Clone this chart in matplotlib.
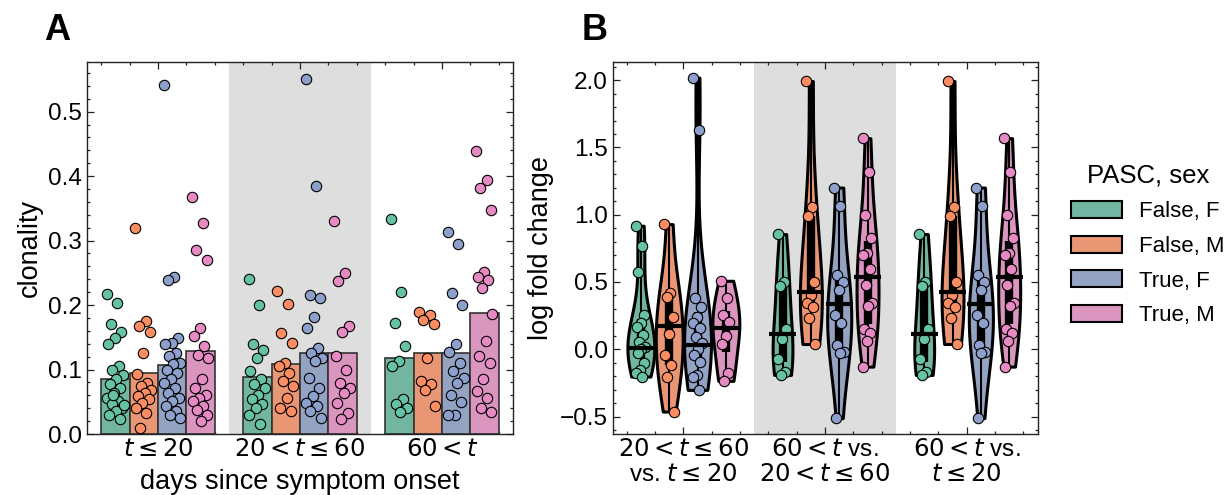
import colorsys
import numpy as np
import matplotlib
matplotlib.use("Agg")
import matplotlib.pyplot as plt
from matplotlib.patches import Patch
from matplotlib.ticker import AutoMinorLocator, MultipleLocator, FixedLocator

plt.rcParams['font.family'] = ['Liberation Sans', 'DejaVu Sans']
plt.rcParams['mathtext.fontset'] = 'dejavusans'

# legend / hue info
hue_labels = ['False, F', 'False, M', 'True, F', 'True, M']
base_colors = ['#66c2a5', '#fc8d62', '#8da0cb', '#e78ac3']

# ---- panel A: clonality by days since symptom onset ----
a_groups = [r'$t \leq 20$', r'$20 < t \leq 60$', r'$60 < t$']
a_bars = [[0.085, 0.094, 0.107, 0.129],
          [0.089, 0.108, 0.126, 0.126],
          [0.118, 0.126, 0.126, 0.188]]

a_g1_ff = [0.217, 0.203, 0.170, 0.159, 0.149, 0.140, 0.105, 0.100, 0.092, 0.085, 0.077,
           0.072, 0.064, 0.056, 0.051, 0.046, 0.040, 0.035, 0.029, 0.023, 0.060, 0.045]
a_g1_fm = [0.320, 0.175, 0.167, 0.159, 0.126, 0.093, 0.079, 0.074, 0.069, 0.064, 0.059,
           0.054, 0.048, 0.040, 0.033, 0.010]
a_g1_tf = [0.541, 0.244, 0.239, 0.149, 0.141, 0.139, 0.126, 0.121, 0.110, 0.108, 0.100,
           0.095, 0.085, 0.079, 0.072, 0.064, 0.056, 0.051, 0.043, 0.035, 0.030, 0.025]
a_g1_tm = [0.367, 0.327, 0.285, 0.270, 0.165, 0.152, 0.136, 0.123, 0.118, 0.085, 0.072,
           0.061, 0.056, 0.051, 0.043, 0.038, 0.030, 0.020]

a_g2_ff = [0.240, 0.200, 0.139, 0.131, 0.118, 0.097, 0.085, 0.077, 0.072, 0.061, 0.054,
           0.046, 0.040, 0.030, 0.015]
a_g2_fm = [0.222, 0.201, 0.157, 0.141, 0.110, 0.105, 0.095, 0.082, 0.074, 0.056, 0.040, 0.035]
a_g2_tf = [0.550, 0.385, 0.216, 0.211, 0.181, 0.165, 0.134, 0.126, 0.118, 0.113, 0.087,
           0.072, 0.059, 0.048, 0.043, 0.035, 0.025]
a_g2_tm = [0.331, 0.250, 0.237, 0.167, 0.158, 0.121, 0.100, 0.079, 0.072, 0.064, 0.048,
           0.033, 0.023]

a_g3_ff = [0.333, 0.220, 0.172, 0.137, 0.113, 0.106, 0.054, 0.046, 0.040, 0.034]
a_g3_fm = [0.190, 0.185, 0.177, 0.170, 0.118, 0.082, 0.077, 0.069, 0.044]
a_g3_tf = [0.313, 0.295, 0.219, 0.200, 0.140, 0.127, 0.110, 0.097, 0.087, 0.079, 0.061,
           0.050, 0.030, 0.029]
a_g3_tm = [0.439, 0.394, 0.381, 0.348, 0.252, 0.244, 0.239, 0.227, 0.186, 0.144, 0.121,
           0.110, 0.085, 0.067, 0.056, 0.040, 0.034]

a_points = [[a_g1_ff, a_g1_fm, a_g1_tf, a_g1_tm],
            [a_g2_ff, a_g2_fm, a_g2_tf, a_g2_tm],
            [a_g3_ff, a_g3_fm, a_g3_tf, a_g3_tm]]

# ---- panel B: log fold change between time windows ----
b_groups = ['$20 < t \\leq 60$\nvs. $t \\leq 20$',
            '$60 < t$ vs.\n$20 < t \\leq 60$',
            '$60 < t$ vs.\n$t \\leq 20$']
b_medians = [[0.007, 0.175, 0.032, 0.156],
             [0.111, 0.423, 0.336, 0.537],
             [0.111, 0.423, 0.336, 0.537]]

b_g1_ff = [0.918, 0.769, 0.571, 0.255, 0.193, 0.168, 0.106, 0.057, 0.020, 0.000, -0.030,
           -0.104, -0.154, -0.178, -0.203]
b_g1_fm = [0.930, 0.416, 0.391, 0.242, 0.114, -0.042, -0.117, -0.203, -0.463]
b_g1_tf = [2.019, 1.633, 0.383, 0.317, 0.242, 0.193, 0.156, 0.094, 0.045, 0.000, -0.042,
           -0.092, -0.191, -0.203, -0.302]
b_g1_tm = [0.509, 0.379, 0.255, 0.205, 0.099, 0.037, -0.178, -0.235]

b_g2_ff = [0.856, 0.502, 0.470, 0.148, 0.074, -0.074, -0.166, -0.191]
b_g2_fm = [1.994, 1.054, 0.990, 0.502, 0.403, 0.341, 0.317, 0.235, 0.039]
b_g2_tf = [1.202, 1.064, 0.552, 0.502, 0.440, 0.255, 0.193, 0.032, -0.018, -0.030, -0.512]
b_g2_tm = [1.569, 1.318, 0.997, 0.829, 0.717, 0.700, 0.594, 0.477, 0.341, 0.321, 0.148,
           0.119, 0.062, -0.129]

b_g3_ff = [0.856, 0.502, 0.470, 0.148, 0.074, -0.074, -0.166, -0.191]
b_g3_fm = [1.994, 1.054, 0.990, 0.502, 0.403, 0.341, 0.317, 0.235, 0.039]
b_g3_tf = [1.202, 1.064, 0.552, 0.502, 0.440, 0.255, 0.193, 0.032, -0.018, -0.030, -0.512]
b_g3_tm = [1.569, 1.318, 0.997, 0.829, 0.717, 0.700, 0.594, 0.477, 0.341, 0.321, 0.148,
           0.119, 0.062, -0.129]

b_points = [[b_g1_ff, b_g1_fm, b_g1_tf, b_g1_tm],
            [b_g2_ff, b_g2_fm, b_g2_tf, b_g2_tm],
            [b_g3_ff, b_g3_fm, b_g3_tf, b_g3_tm]]

# violin max widths (drawing size)
b_widths = [[0.19, 0.19, 0.19, 0.19],
            [0.14, 0.155, 0.17, 0.155],
            [0.14, 0.155, 0.17, 0.155]]


def desat(c, prop=0.75):
    r, g, b = matplotlib.colors.to_rgb(c)
    h, l, s = colorsys.rgb_to_hls(r, g, b)
    return colorsys.hls_to_rgb(h, l, s * prop)


def jitter(n, amt):
    # deterministic spread of strip points
    return ((np.arange(n) * 0.618034) % 1.0 - 0.5) * 2 * amt


soft_colors = [desat(c) for c in base_colors]
offsets = [-0.3, -0.1, 0.1, 0.3]
band_color = '#dedede'


def style_axis(ax):
    ax.tick_params(which='both', direction='in', top=True, right=True,
                   labelsize=17.5, width=0.9, color='#222222')
    ax.tick_params(which='major', length=5)
    ax.tick_params(which='minor', length=2.5)
    ax.xaxis.set_major_locator(FixedLocator([0, 1, 2]))
    ax.xaxis.set_minor_locator(AutoMinorLocator(5))
    for sp in ax.spines.values():
        sp.set_linewidth(1.0)
        sp.set_color('#222222')


fig = plt.figure(figsize=(12.29, 4.95), dpi=100)
axA = fig.add_axes([0.0708, 0.1232, 0.3466, 0.7515])
axB = fig.add_axes([0.4984, 0.1232, 0.3458, 0.7515])

# panel A
axA.axvspan(0.5, 1.5, color=band_color, zorder=0, lw=0)
for g in range(3):
    for h in range(4):
        x = g + offsets[h]
        axA.bar(x, a_bars[g][h], width=0.2, color=soft_colors[h],
                edgecolor='#333333', linewidth=1.2, zorder=2)
        vals = np.array(a_points[g][h])
        xs = x + jitter(len(vals), 0.06)
        axA.scatter(xs, vals, s=56, color=base_colors[h], edgecolor='black',
                    linewidth=0.8, zorder=3)

axA.set_xlim(-0.5, 2.5)
axA.set_ylim(0, 0.577)
style_axis(axA)
axA.yaxis.set_major_locator(MultipleLocator(0.1))
axA.yaxis.set_minor_locator(MultipleLocator(0.02))
axA.set_xticklabels(a_groups)
axA.set_ylabel('clonality', fontsize=19.5, labelpad=4)
axA.set_xlabel('days since symptom onset', fontsize=19.5, labelpad=6)

# panel B
axB.axvspan(0.5, 1.5, color=band_color, zorder=0, lw=0)
for g in range(3):
    for h in range(4):
        x = g + offsets[h]
        vals = np.array(b_points[g][h])
        parts = axB.violinplot([vals], positions=[x], widths=b_widths[g][h],
                               showextrema=False)
        for body in parts['bodies']:
            body.set_facecolor(soft_colors[h])
            body.set_edgecolor('black')
            body.set_linewidth(2.2)
            body.set_alpha(1)
            body.set_zorder(2)
        q1, q3 = np.percentile(vals, [25, 75])
        axB.vlines(x, vals.min(), vals.max(), color='black', lw=1.5, zorder=2.5)
        axB.vlines(x, q1, q3, color='black', lw=6, zorder=2.6)
        xs = x + jitter(len(vals), 0.035)
        axB.scatter(xs, vals, s=56, color=base_colors[h], edgecolor='black',
                    linewidth=0.8, zorder=3)
        axB.hlines(b_medians[g][h], x - 0.095, x + 0.095, color='black', lw=3, zorder=4)

axB.set_xlim(-0.5, 2.5)
axB.set_ylim(-0.63, 2.135)
style_axis(axB)
axB.yaxis.set_major_locator(MultipleLocator(0.5))
axB.yaxis.set_minor_locator(MultipleLocator(0.1))
axB.set_xticklabels(b_groups)
axB.set_ylabel('log fold change', fontsize=19.5, labelpad=4)

# legend
handles = [Patch(facecolor=soft_colors[i], edgecolor='black', linewidth=1.5)
           for i in range(4)]
fig.legend(handles, hue_labels, title='PASC, sex', loc='center left',
           bbox_to_anchor=(0.862, 0.505), frameon=False, fontsize=16,
           title_fontsize=18.5, handlelength=2.3, handleheight=0.8,
           labelspacing=0.6, handletextpad=0.8, borderpad=0)

# panel letters
fig.text(57 / 1229, 1 - 30 / 495, 'A', fontsize=26, fontweight='bold', ha='center', va='center')
fig.text(595 / 1229, 1 - 30 / 495, 'B', fontsize=26, fontweight='bold', ha='center', va='center')

fig.savefig('out.png', dpi=100)
